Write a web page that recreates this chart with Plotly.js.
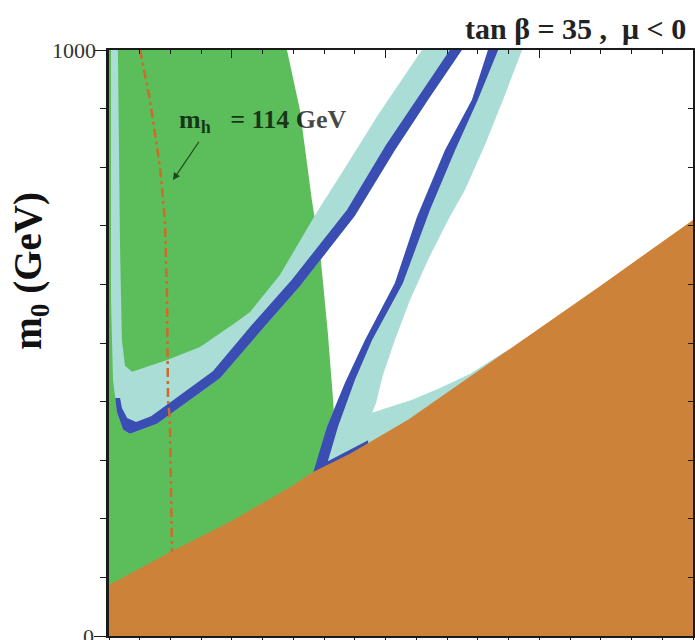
<!DOCTYPE html>
<html>
<head>
<meta charset="utf-8">
<script src="https://cdn.plot.ly/plotly-3.0.1.min.js"></script>
<style>html,body{margin:0;padding:0;background:#fff;}#chart{width:695px;height:640px;}</style>
</head>
<body>
<div id="chart"></div>
<script>
// ---- data (m_1/2 in GeV on x, m_0 in GeV on y) ----
const xRange = [100, 2000];
const yRange = [0, 1000];

// b -> s gamma excluded region (green)
const greenX = [100, 679, 721, 760, 786, 812, 829, 842, 842, 100];
const greenY = [1000, 1000, 898, 744, 659, 517, 403, 300, 0, 0];

// first (U-shaped) preferred strip: light band and dark edge
const uCyanX = [106.5, 106.5, 113, 126, 146, 168, 256, 461, 591, 721, 900, 1030, 1138, 1248, 1118, 1053, 975, 868, 777, 656, 559, 510, 396, 289, 175, 152, 142, 136, 129];
const uCyanY = [1000, 573, 437, 382, 352, 345, 362, 440, 519, 597, 717, 829, 915, 1000, 1000, 949, 889, 799, 724, 616, 553, 534, 493, 471, 451, 461, 505, 659, 1000];
const uBlueX = [120, 126, 146, 168, 256, 461, 591, 721, 900, 1030, 1138, 1248, 1209, 1112, 1001, 874, 695, 565, 438, 237, 188, 159, 142, 136];
const uBlueY = [406, 382, 352, 345, 362, 440, 519, 597, 717, 829, 915, 1000, 1000, 925, 838, 727, 608, 531, 452, 375, 365, 372, 389, 406];

// second (funnel) strip: light band and dark edge
const vCyanX = [764, 809, 868, 933, 1030, 1102, 1193, 1281, 1333, 1444, 1382, 1323, 1258, 1203, 1138, 1079, 1030, 991, 969, 956, 1086, 1177, 1274, 1388, 1388, 1073, 884, 764];
const vCyanY = [271, 357, 432, 505, 602, 715, 829, 915, 1000, 1000, 915, 838, 761, 710, 642, 573, 505, 445, 398, 381, 403, 423, 447, 485, 468, 360, 300, 268];
const vBlueX = [764, 809, 868, 933, 1030, 1102, 1193, 1281, 1333, 1366, 1300, 1226, 1144, 1056, 956, 900, 845, 812, 943, 943, 764];
const vBlueY = [278, 357, 432, 505, 602, 715, 829, 915, 1000, 1000, 915, 829, 727, 602, 505, 437, 357, 298, 334, 326, 271];

// charged LSP excluded region (brown): upper boundary
const brownX = [100, 298, 494, 689, 764, 884, 1073, 1372, 1697, 2000];
const brownY = [87, 143, 195, 254, 280, 311, 369, 478, 597, 710];

// m_h = 114 GeV contour
const mhX = [201, 233, 266, 282, 289, 292, 298, 305];
const mhY = [1000, 915, 800, 710, 573, 403, 369, 143];

// labels
const yTickVals = [0, 1000];
const yTickText = ['0', '1000'];
const titleText = 'tan β = 35 ,\u00a0 μ < 0';
const yTitleText = 'm<sub>0</sub> (GeV)';
const mhLabel = 'm<sub>h</sub>\u00a0\u00a0\u00a0= 114 GeV';
const mhArrowTip = [308, 778];
const mhArrowTail = [396, 846];
const mhLabelPos = [321, 879];

// ---- styles ----
const C_GREEN = '#5cbe5a';
const C_CYAN = '#a9ddd5';
const C_BLUE = '#3a4db2';
const C_BROWN = '#cc8239';
const C_RED = '#d0692c';
const SERIF = 'Liberation Serif, Times New Roman, serif';

function poly(x, y, color) {
  return {x: x, y: y, type: 'scatter', mode: 'lines', fill: 'toself',
          fillcolor: color, line: {width: 0, color: color}, hoverinfo: 'skip', showlegend: false};
}

const brownPolyX = brownX.concat([xRange[1], xRange[0]]);
const brownPolyY = brownY.concat([yRange[0], yRange[0]]);

const traces = [
  poly(greenX, greenY, C_GREEN),
  poly(uCyanX, uCyanY, C_CYAN),
  poly(uBlueX, uBlueY, C_BLUE),
  poly(vCyanX, vCyanY, C_CYAN),
  poly(vBlueX, vBlueY, C_BLUE),
  poly(brownPolyX, brownPolyY, C_BROWN),
  {x: mhX, y: mhY, type: 'scatter', mode: 'lines',
   line: {color: C_RED, width: 2.5, dash: '9px,4px,3px,4px'}, hoverinfo: 'skip', showlegend: false},
  {x: brownX, y: brownY, type: 'scatter', mode: 'lines', xaxis: 'x2', yaxis: 'y2',
   line: {width: 0}, opacity: 0, hoverinfo: 'skip', showlegend: false}
];

const AX = '#1a1a1a';
const layout = {
  width: 695, height: 640,
  margin: {l: 109, r: 2, t: 50, b: 4, pad: 0},
  paper_bgcolor: '#ffffff', plot_bgcolor: '#ffffff',
  showlegend: false,
  xaxis: {range: xRange, showgrid: false, zeroline: false, showline: true, linecolor: AX, linewidth: 2,
          ticks: 'outside', tick0: 100, dtick: 100, ticklen: 4, tickcolor: AX, showticklabels: false},
  xaxis2: {range: xRange, overlaying: 'x', side: 'top', anchor: 'y2', showgrid: false, zeroline: false,
           showline: true, linecolor: AX, linewidth: 2, ticks: 'inside', tickmode: 'array',
           tickvals: [500, 1000, 1500], ticklen: 8, tickcolor: AX, showticklabels: false,
           minor: {tick0: 100, dtick: 100, ticks: 'inside', ticklen: 4, tickcolor: AX}},
  yaxis: {range: yRange, showgrid: false, zeroline: false, showline: true, linecolor: AX, linewidth: 3,
          ticks: 'outside', tickmode: 'array', tickvals: yTickVals, ticklen: 12,
          tickcolor: AX, showticklabels: false,
          minor: {tick0: 0, dtick: 100, ticks: 'outside', ticklen: 6, tickcolor: AX}},
  yaxis2: {range: yRange, overlaying: 'y', side: 'right', anchor: 'x2', showgrid: false, zeroline: false,
           showline: true, linecolor: AX, linewidth: 2, ticks: 'inside', tick0: 0, dtick: 100,
           ticklen: 5, tickcolor: AX, showticklabels: false},
  annotations: [
    {xref: 'paper', yref: 'y', x: -12 / 584, y: yTickVals[1], xanchor: 'right', yanchor: 'middle',
     text: yTickText[1], showarrow: false, borderpad: 0, font: {family: SERIF, size: 22, color: '#333333'}},
    {xref: 'paper', yref: 'y', x: -14 / 584, y: yTickVals[0], xanchor: 'right', yanchor: 'middle',
     text: yTickText[0], showarrow: false, borderpad: 0, font: {family: SERIF, size: 22, color: '#333333'}},
    {xref: 'paper', yref: 'paper', x: (463 - 109) / 584, y: 1.037, xanchor: 'left', yanchor: 'middle',
     text: '<b>' + titleText + '</b>', showarrow: false, font: {family: SERIF, size: 30, color: '#222222'}},
    {xref: 'paper', yref: 'paper', x: -0.134, y: 0.623, xanchor: 'center', yanchor: 'middle', textangle: -90,
     text: '<b>' + yTitleText + '</b>', showarrow: false, font: {family: SERIF, size: 39, color: '#111111'}},
    {xref: 'x', yref: 'y', x: mhLabelPos[0], y: mhLabelPos[1], xanchor: 'left', yanchor: 'middle',
     text: '<b>' + mhLabel + '</b>', showarrow: false, font: {family: SERIF, size: 26, color: 'rgba(0,0,0,0.72)'}},
    {xref: 'x', yref: 'y', axref: 'x', ayref: 'y', x: mhArrowTip[0], y: mhArrowTip[1],
     ax: mhArrowTail[0], ay: mhArrowTail[1], text: '', showarrow: true, arrowhead: 2, arrowsize: 1.2,
     arrowwidth: 1.2, arrowcolor: '#1d4a1d', standoff: 0, startstandoff: 0}
  ]
};

Plotly.newPlot('chart', traces, layout, {displayModeBar: false, staticPlot: true});
</script>
</body>
</html>
